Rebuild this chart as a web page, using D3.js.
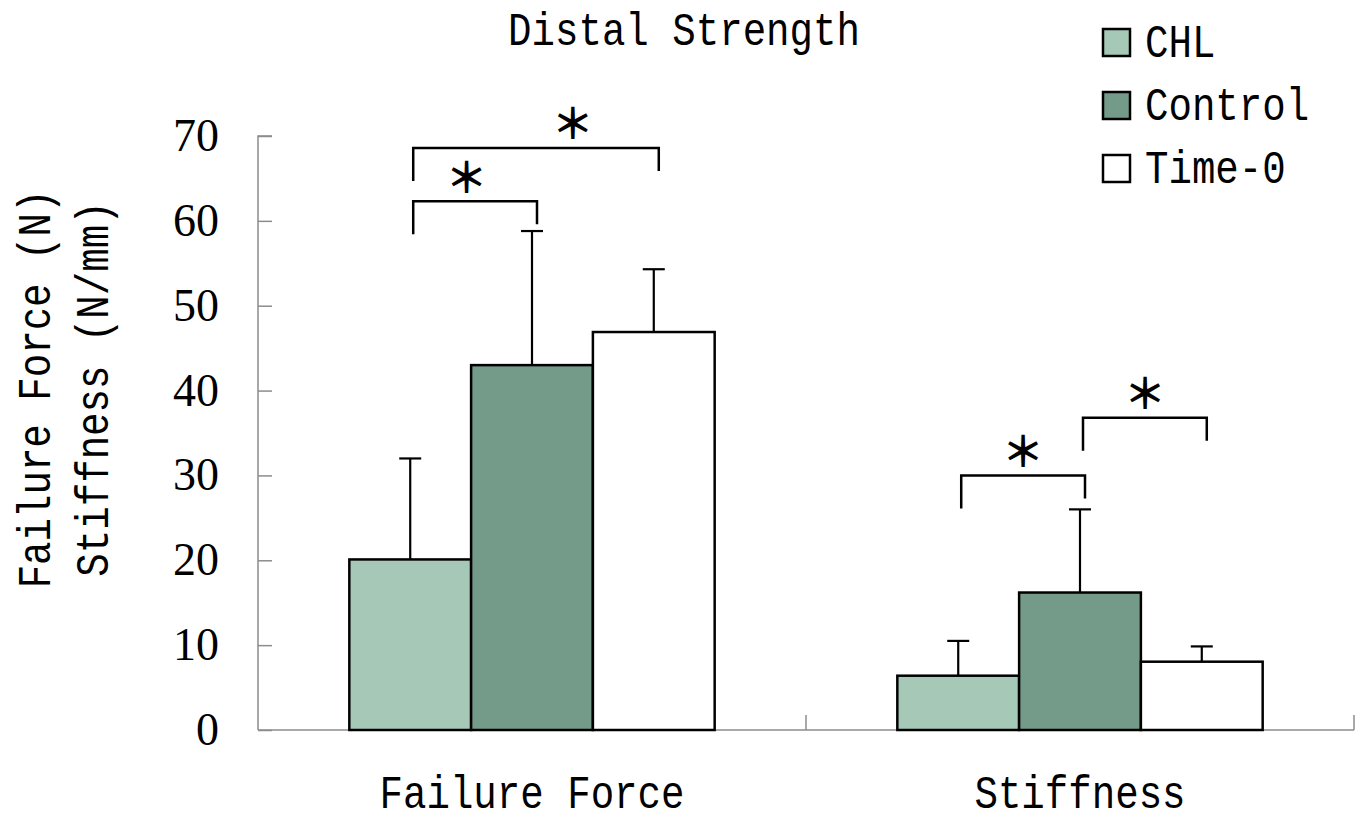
<!DOCTYPE html>
<html>
<head>
<meta charset="utf-8">
<script src="https://cdn.jsdelivr.net/npm/d3@7"></script>
<style>
  html, body { margin: 0; padding: 0; background: #fff; }
  svg { display: block; }
</style>
</head>
<body>
<svg id="chart" width="1365" height="823"></svg>
<script>
// ---- data ----
const groups = ["Failure Force", "Stiffness"];
const seriesNames = ["CHL", "Control", "Time-0"];
const chlMean = [20.1, 6.4];
const chlSD = [11.9, 4.1];
const controlMean = [43.0, 16.2];
const controlSD = [15.8, 9.8];
const time0Mean = [46.9, 8.05];
const time0SD = [7.4, 1.8];
const yTicks = [0, 10, 20, 30, 40, 50, 60, 70];
// significance brackets: group index, series indices compared, height in axis units
const brackets = [
  { group: 0, from: 0, to: 1, level: 62.3, star: 0.43 },
  { group: 0, from: 0, to: 2, level: 68.6, star: 0.65 },
  { group: 1, from: 0, to: 1, level: 30.0, star: 0.5 },
  { group: 1, from: 1, to: 2, level: 36.8, star: 0.5 }
];

const means = [chlMean, controlMean, time0Mean];
const sds = [chlSD, controlSD, time0SD];
const fills = ["#a6c9b7", "#749a89", "#ffffff"];

const rows = [];
groups.forEach((g, gi) => {
  seriesNames.forEach((s, si) => {
    rows.push({ group: g, gi, series: s, si, mean: means[si][gi], sd: sds[si][gi] });
  });
});

// ---- layout ----
const plot = { left: 258, right: 1354, top: 136, bottom: 730 };
const svg = d3.select("#chart");

const x0 = d3.scaleBand().domain(groups).range([plot.left, plot.right]).padding(0);
const x1 = d3.scaleBand().domain(seriesNames).range([0, x0.bandwidth()])
  .paddingInner(0).paddingOuter(0.75);
const y = d3.scaleLinear().domain([0, 70]).range([plot.bottom, plot.top]);

const monoFont = "'Liberation Mono', 'DejaVu Sans Mono', monospace";
const monoScale = 0.85;
const axisColor = "#8c8c8c";

function monoText(sel, txt, x, yPos, size, anchor, rotate) {
  return sel.append("text")
    .attr("transform", `translate(${x},${yPos})${rotate ? " rotate(-90)" : ""} scale(${monoScale},1)`)
    .attr("text-anchor", anchor)
    .attr("font-family", monoFont)
    .attr("font-size", size)
    .attr("fill", "#000")
    .text(txt);
}

// ---- y axis ----
const yAxis = d3.axisRight(y).tickValues(yTicks).tickSize(14).tickFormat("");
const yg = svg.append("g").attr("transform", `translate(${plot.left},0)`).call(yAxis);
yg.select(".domain").attr("stroke", axisColor).attr("stroke-width", 1.5)
  .attr("d", `M14,${plot.top}H0V${plot.bottom}`);
yg.selectAll(".tick line").attr("stroke", axisColor).attr("stroke-width", 1.5);

svg.append("g").selectAll("text").data(yTicks).join("text")
  .attr("x", 219)
  .attr("y", d => y(d) + 15)
  .attr("text-anchor", "end")
  .attr("font-family", "'Liberation Serif', 'Times New Roman', serif")
  .attr("font-size", 46)
  .attr("fill", "#000")
  .text(d => d);

// ---- x axis ----
const xAxis = d3.axisTop(x0).tickSize(0).tickFormat("");
const xg = svg.append("g").attr("transform", `translate(0,${plot.bottom})`).call(xAxis);
xg.select(".domain").attr("stroke", axisColor).attr("stroke-width", 1.5)
  .attr("d", `M${plot.left},0H${plot.right}`);
xg.selectAll(".tick").remove();
// category separators
const seps = groups.map(g => x0(g) + x0.bandwidth());
xg.selectAll("line.sep").data(seps).join("line")
  .attr("class", "sep")
  .attr("x1", d => d).attr("x2", d => d)
  .attr("y1", 0).attr("y2", -15)
  .attr("stroke", axisColor).attr("stroke-width", 1.5);

groups.forEach(g => {
  monoText(svg, g, x0(g) + x0.bandwidth() / 2, 808, 46, "middle");
});

// ---- bars ----
const bx = d => x0(d.group) + x1(d.series);
const cx = d => bx(d) + x1.bandwidth() / 2;

// error bars (upper only)
const eg = svg.append("g").attr("stroke", "#000").attr("stroke-width", 2.2);
eg.selectAll("line.stem").data(rows).join("line")
  .attr("x1", cx).attr("x2", cx)
  .attr("y1", d => y(d.mean)).attr("y2", d => y(d.mean + d.sd));
eg.selectAll("line.cap").data(rows).join("line")
  .attr("x1", d => cx(d) - 11).attr("x2", d => cx(d) + 11)
  .attr("y1", d => y(d.mean + d.sd)).attr("y2", d => y(d.mean + d.sd));

svg.append("g").selectAll("rect").data(rows).join("rect")
  .attr("x", bx)
  .attr("y", d => y(d.mean))
  .attr("width", x1.bandwidth())
  .attr("height", d => y(0) - y(d.mean))
  .attr("fill", d => fills[d.si])
  .attr("stroke", "#000")
  .attr("stroke-width", 2.5);

// ---- significance brackets ----
const bg = svg.append("g");
brackets.forEach(b => {
  const g = groups[b.group];
  const xa = x0(g) + x1(seriesNames[b.from]) + x1.bandwidth() / 2 + 3;
  const xb = x0(g) + x1(seriesNames[b.to]) + x1.bandwidth() / 2 + 5;
  const yl = y(b.level);
  bg.append("path")
    .attr("d", `M${xa},${yl + 33}V${yl}H${xb}V${yl + 23}`)
    .attr("fill", "none")
    .attr("stroke", "#000")
    .attr("stroke-width", 2.5);
  bg.append("text")
    .attr("x", xa + (xb - xa) * b.star)
    .attr("y", yl - 27)
    .attr("text-anchor", "middle")
    .attr("dominant-baseline", "central")
    .attr("font-family", "'Noto Sans CJK SC', 'DejaVu Sans', sans-serif")
    .attr("font-weight", 700)
    .attr("font-size", 42)
    .attr("fill", "#000")
    .text("＊");
});

// ---- title ----
monoText(svg, "Distal Strength", 684, 45, 46, "middle");

// ---- y axis title ----
monoText(svg, "Failure Force (N)", 50, 389, 46, "middle", true);
monoText(svg, "Stiffness (N/mm)", 108, 389, 46, "middle", true);

// ---- legend ----
const lg = svg.append("g");
seriesNames.forEach((s, i) => {
  const top = 29 + i * 63;
  lg.append("rect")
    .attr("x", 1103).attr("y", top)
    .attr("width", 27).attr("height", 27)
    .attr("fill", fills[i])
    .attr("stroke", "#000")
    .attr("stroke-width", 2.5);
  monoText(lg, s, 1145, top + 28, 46, "start");
});
</script>
</body>
</html>
